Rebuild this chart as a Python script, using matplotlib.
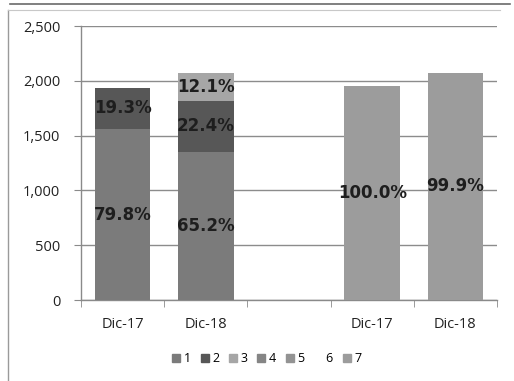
import matplotlib
matplotlib.use("Agg")
import matplotlib.pyplot as plt
from matplotlib.lines import Line2D
import numpy as np

# Categories along the x axis (the empty slot separates the two groups)
categories = ["Dic-17", "Dic-18", "", "Dic-17", "Dic-18"]

# Bar totals (balance) for each period
totals = [1955, 2075, 0, 1950, 2075]

# Share (%) of each series within every bar
share_1 = [79.8, 65.2, 0.0, 0.0, 0.0]
share_2 = [19.3, 22.4, 0.0, 0.0, 0.0]
share_3 = [0.0, 12.1, 0.0, 0.0, 0.0]
share_4 = [0.0, 0.0, 0.0, 0.0, 0.0]
share_5 = [0.0, 0.0, 0.0, 0.0, 0.0]
share_6 = [0.0, 0.0, 0.0, 0.0, 0.0]
share_7 = [0.0, 0.0, 0.0, 100.0, 99.9]

series_names = ["1", "2", "3", "4", "5", "6", "7"]
shares = [share_1, share_2, share_3, share_4, share_5, share_6, share_7]
colors = ["#7b7b7b", "#575757", "#a6a6a6", "#858585", "#939393", "#ffffff", "#9c9c9c"]

y_ticks = [0, 500, 1000, 1500, 2000, 2500]
y_ticklabels = ["0", "500", "1,000", "1,500", "2,000", "2,500"]

W, H = 514, 381
fig = plt.figure(figsize=(W / 100, H / 100), dpi=100)
fig.patch.set_facecolor("white")

ax = fig.add_axes([81 / W, 1 - 300 / H, (497 - 81) / W, (300 - 26) / H])

x = np.arange(len(categories))
bottom = np.zeros(len(categories))
for name, sh, col in zip(series_names, shares, colors):
    vals = np.array(totals) * np.array(sh) / 100.0
    ax.bar(x, vals, width=0.67, bottom=bottom, color=col, zorder=3)
    for xi, v, b, s in zip(x, vals, bottom, sh):
        if s > 0:
            ax.text(xi, b + v / 2, f"{s:.1f}%", ha="center", va="center",
                    fontsize=12, fontweight="bold", color="#1e1e1e",
                    family="DejaVu Sans", zorder=5)
    bottom += vals

ax.set_xlim(-0.5, len(categories) - 0.5)
ax.set_ylim(0, 2500)
ax.set_yticks(y_ticks)
ax.set_yticklabels(y_ticklabels, fontsize=10.5, family="Open Sans", color="#222222")
ax.set_xticks(x)
ax.set_xticklabels(categories, fontsize=10.5, family="Open Sans", color="#222222")
ax.set_xticks(np.arange(-0.5, len(categories)), minor=True)
ax.tick_params(axis="x", which="major", length=0, pad=12)
ax.tick_params(axis="x", which="minor", length=5, color="#8a8a8a")
ax.tick_params(axis="y", length=5, color="#8a8a8a", pad=10)

ax.yaxis.grid(True, color="#8c8c8c", linewidth=1.0, zorder=0)
for side in ["top", "right"]:
    ax.spines[side].set_visible(False)
for side in ["left", "bottom"]:
    ax.spines[side].set_color("#8a8a8a")
    ax.spines[side].set_linewidth(1.0)

# Legend: small squares followed by the series names
handles = [Line2D([0], [0], marker="s", linestyle="none", markersize=6,
                  markerfacecolor=c, markeredgecolor=c) for c in colors]
fig.legend(handles, series_names, loc="center", bbox_to_anchor=(267 / W, 1 - 359 / H),
           ncol=7, frameon=False, handlelength=0.6, handletextpad=0.3,
           columnspacing=0.8, prop={"family": "Open Sans", "size": 9})

# Chart frame
fig.add_artist(Line2D([8 / W, 8 / W], [0, 1 - 10 / H], color="#9a9a9a", linewidth=1.0))
fig.add_artist(Line2D([8 / W, 500 / W], [1 - 10 / H, 1 - 10 / H], color="#c8c8c8", linewidth=0.8))
fig.add_artist(Line2D([10 / W, 510 / W], [1 - 4 / H, 1 - 4 / H], color="#6a6a6a", linewidth=1.2))

fig.savefig("out.png", dpi=100, facecolor="white")
